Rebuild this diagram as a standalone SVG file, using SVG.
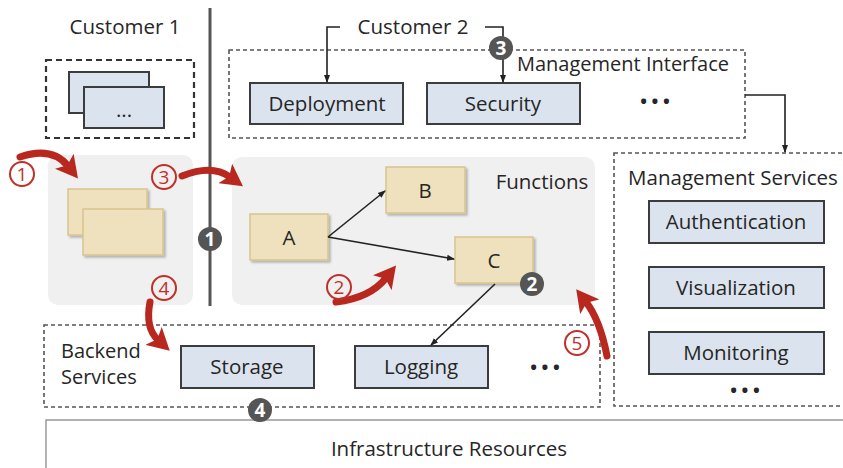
<svg xmlns="http://www.w3.org/2000/svg" width="843" height="468" viewBox="0 0 843 468">
<defs>
<marker id="ah" markerWidth="8" markerHeight="8" refX="7" refY="4" orient="auto" markerUnits="userSpaceOnUse"><path d="M0,1 L8,4 L0,7 z" fill="#222"/></marker>
<marker id="rh" markerWidth="24" markerHeight="24" refX="6" refY="12" orient="auto" markerUnits="userSpaceOnUse"><path d="M0,0 L22,12 L0,24 L5,12 z" fill="#b8281f"/></marker>
<filter id="sh" x="-10%" y="-10%" width="130%" height="140%"><feDropShadow dx="2" dy="2" stdDeviation="1.2" flood-color="#000" flood-opacity="0.25"/></filter>
</defs>
<style>
text{font-family:"Open Sans","Noto Sans","Liberation Sans",sans-serif;fill:#262626}
.lbl{font-size:20.5px;text-anchor:middle}
.blue{fill:#dbe4ee;stroke:#3c3c3c;stroke-width:2}
.yel{fill:#efe1bd;stroke:#d7c48e;stroke-width:1.5;filter:url(#sh)}
.panel{fill:#f0f0f0;stroke:none}
.dash{fill:none;stroke:#555;stroke-width:1.6;stroke-dasharray:4 3}
.dash2{fill:none;stroke:#333;stroke-width:2.2;stroke-dasharray:6 4}
.conn{fill:none;stroke:#222;stroke-width:1.6}
.red{fill:none;stroke:#b8281f;stroke-width:7;stroke-linecap:round}
.rc{fill:none;stroke:#c0302a;stroke-width:2}
.rt{fill:#c0302a;font-size:19px;text-anchor:middle}
.dc{fill:#555}
.dt{fill:#fff;font-size:19px;font-weight:bold;text-anchor:middle}
.dots{font-size:18px;font-weight:bold;text-anchor:middle}
</style>

<line x1="210" y1="8" x2="210" y2="306" stroke="#555" stroke-width="3"/>

<g id="customer1">
<text x="125" y="34" class="lbl" font-size="18.5">Customer 1</text>
<rect x="46" y="60" width="148" height="78" class="dash2"/>
<rect x="69" y="72" width="80" height="41" class="blue"/>
<rect x="84" y="87" width="80" height="41" class="blue"/>
<text x="124" y="117" class="lbl" font-size="16">...</text>
</g>

<g id="customer1-functions">
<rect x="48" y="155" width="145" height="150" rx="10" class="panel"/>
<rect x="68" y="189" width="79" height="46" class="yel"/>
<rect x="83" y="209" width="80" height="46" class="yel"/>
</g>

<g id="management-interface">
<rect x="229" y="50" width="516" height="88" class="dash"/>
<text x="517" y="71" font-size="20">Management Interface</text>
<text x="655" y="108" class="dots">• • •</text>
</g>
<g id="deployment"><rect x="250" y="83" width="153" height="41" class="blue"/><text x="327" y="111" class="lbl">Deployment</text></g>
<g id="security"><rect x="427" y="83" width="153" height="41" class="blue"/><text x="503" y="111" class="lbl">Security</text></g>
<g id="customer2"><text x="413" y="34" class="lbl" font-size="18.5">Customer 2</text></g>

<g id="functions">
<rect x="232" y="157" width="363" height="148" rx="10" class="panel"/>
<text x="542" y="189" class="lbl">Functions</text>
</g>
<g id="A"><rect x="250" y="214" width="78" height="46" class="yel"/><text x="289" y="245" class="lbl">A</text></g>
<g id="B"><rect x="386" y="167" width="79" height="46" class="yel"/><text x="425" y="198" class="lbl">B</text></g>
<g id="C"><rect x="455" y="237" width="78" height="46" class="yel"/><text x="494" y="268" class="lbl">C</text></g>

<g id="management-services">
<rect x="614" y="153" width="235" height="253" class="dash"/>
<text x="733" y="185" class="lbl" font-size="20">Management Services</text>
<text x="745" y="397" class="dots">• • •</text>
</g>
<g id="authentication"><rect x="649" y="201" width="175" height="42" class="blue"/><text x="736" y="229" class="lbl">Authentication</text></g>
<g id="visualization"><rect x="649" y="267" width="175" height="41" class="blue"/><text x="736" y="295" class="lbl">Visualization</text></g>
<g id="monitoring"><rect x="649" y="332" width="175" height="42" class="blue"/><text x="736" y="360" class="lbl">Monitoring</text></g>

<g id="backend-services">
<rect x="44" y="325" width="556" height="82" class="dash"/>
<text x="61" y="358" font-size="20">Backend</text>
<text x="61" y="384" font-size="20">Services</text>
<text x="545" y="374" class="dots">• • •</text>
</g>
<g id="storage"><rect x="181" y="346" width="133" height="42" class="blue"/><text x="247" y="374" class="lbl">Storage</text></g>
<g id="logging"><rect x="355" y="346" width="133" height="42" class="blue"/><text x="421" y="374" class="lbl">Logging</text></g>

<g id="infrastructure">
<rect x="46" y="420" width="800" height="52" fill="#fff" stroke="#999" stroke-width="1.5"/>
<text x="449" y="456" class="lbl" font-size="22">Infrastructure Resources</text>
</g>

<g id="connectors">
<path d="M340,27 H327 V82" class="conn" marker-end="url(#ah)"/>
<path d="M485,27 H503 V82" class="conn" marker-end="url(#ah)"/>
<path d="M745,95 H785 V152" class="conn" marker-end="url(#ah)"/>
<line x1="328" y1="237" x2="385" y2="191" class="conn" marker-end="url(#ah)"/>
<line x1="328" y1="237" x2="454" y2="259" class="conn" marker-end="url(#ah)"/>
<line x1="495" y1="284" x2="431" y2="345" class="conn" marker-end="url(#ah)"/>
<path d="M20,157 Q52,146 68,166" class="red" marker-end="url(#rh)"/>
<path d="M182,176 Q212,164 230,177" class="red" marker-end="url(#rh)"/>
<path d="M150,302 Q145,328 158,340" class="red" marker-end="url(#rh)"/>
<path d="M336,302 Q370,298 386,278" class="red" marker-end="url(#rh)"/>
<path d="M607,356 Q600,320 586,302" class="red" marker-end="url(#rh)"/>
</g>

<g id="red-labels">
<circle cx="22" cy="174" r="12" class="rc"/><text x="22" y="180.5" class="rt">1</text>
<circle cx="164" cy="177" r="12" class="rc"/><text x="164" y="183.5" class="rt">3</text>
<circle cx="164" cy="288" r="12" class="rc"/><text x="164" y="294.5" class="rt">4</text>
<circle cx="339" cy="287" r="12" class="rc"/><text x="339" y="293.5" class="rt">2</text>
<circle cx="577" cy="343" r="12" class="rc"/><text x="577" y="349.5" class="rt">5</text>
</g>

<g id="dark-labels">
<circle cx="210" cy="239" r="12" class="dc"/><text x="210" y="245.5" class="dt">1</text>
<circle cx="532" cy="284" r="12" class="dc"/><text x="532" y="290.5" class="dt">2</text>
<circle cx="501" cy="48" r="12" class="dc"/><text x="501" y="54.5" class="dt">3</text>
<circle cx="260" cy="410" r="12" class="dc"/><text x="260" y="416.5" class="dt">4</text>
</g>
</svg>
